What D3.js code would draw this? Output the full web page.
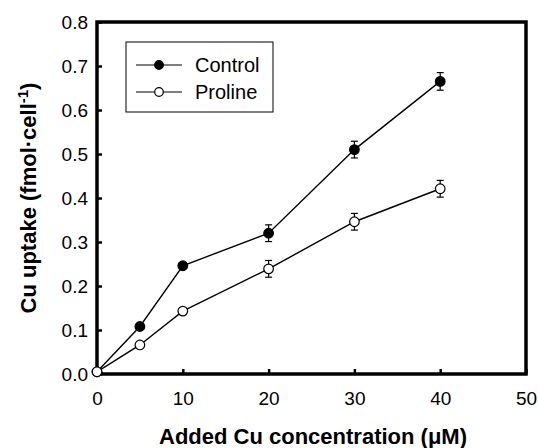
<!DOCTYPE html>
<html>
<head>
<meta charset="utf-8">
<script src="https://cdn.jsdelivr.net/npm/d3@7"></script>
<style>
  body { margin: 0; background: #fff; }
  text { font-family: "Liberation Sans", Arial, sans-serif; fill: #000; }
</style>
</head>
<body>
<div id="chart"></div>
<script>
const concentrations = [0, 5, 10, 20, 30, 40];
const controlValues = [0.005, 0.108, 0.246, 0.32, 0.51, 0.665];
const controlErrors = [0.003, 0.006, 0.006, 0.019, 0.019, 0.02];
const prolineValues = [0.005, 0.066, 0.143, 0.239, 0.346, 0.421];
const prolineErrors = [0.003, 0.005, 0.006, 0.019, 0.019, 0.019];
const xTicks = [0, 10, 20, 30, 40, 50];
const yTicks = [0, 0.1, 0.2, 0.3, 0.4, 0.5, 0.6, 0.7, 0.8];

const w = 539;
const h = 448;
const padL = 97, padR = 526, padT = 22, padB = 374;

const x = d3.scaleLinear().domain([0, 50]).range([padL, padR]);
const y = d3.scaleLinear().domain([0, 0.8]).range([padB, padT]);

const svg = d3.select('#chart')
    .append('svg')
    .attr('width', w)
    .attr('height', h);

// axes, ticks point inward
svg.append('g')
    .attr('transform', `translate(0,${padB})`)
    .call(d3.axisBottom(x).tickValues(xTicks).tickSizeInner(-5).tickSizeOuter(0).tickPadding(18).tickFormat(d3.format('d')))
    .call(g => g.select('.domain').remove())
    .call(g => g.selectAll('line').attr('stroke-width', 2.5))
    .call(g => g.selectAll('text').attr('font-size', 19));

svg.append('g')
    .attr('transform', `translate(${padL},0)`)
    .call(d3.axisLeft(y).tickValues(yTicks).tickSizeInner(-5).tickSizeOuter(0).tickPadding(9).tickFormat(d3.format('.1f')))
    .call(g => g.select('.domain').remove())
    .call(g => g.selectAll('line').attr('stroke-width', 2.5))
    .call(g => g.selectAll('text').attr('font-size', 19));

// frame
svg.append('rect')
    .attr('x', padL).attr('y', padT)
    .attr('width', padR - padL).attr('height', padB - padT)
    .attr('fill', 'none').attr('stroke', '#000').attr('stroke-width', 3.5);

const series = [
  { name: 'Control', values: controlValues, errors: controlErrors, fill: '#000' },
  { name: 'Proline', values: prolineValues, errors: prolineErrors, fill: '#fff' }
];

const line = d3.line().x(d => x(d[0])).y(d => y(d[1]));

series.forEach(s => {
  const pts = concentrations.map((c, i) => [c, s.values[i], s.errors[i]]);
  svg.append('path')
      .datum(pts)
      .attr('d', line)
      .attr('fill', 'none')
      .attr('stroke', '#000')
      .attr('stroke-width', 1.4);

  const eb = svg.append('g');
  pts.forEach(p => {
    const cx = x(p[0]);
    eb.append('line').attr('x1', cx).attr('x2', cx)
      .attr('y1', y(p[1] - p[2])).attr('y2', y(p[1] + p[2]))
      .attr('stroke', '#000').attr('stroke-width', 1.2);
    [p[1] - p[2], p[1] + p[2]].forEach(v => {
      eb.append('line').attr('x1', cx - 3.5).attr('x2', cx + 3.5)
        .attr('y1', y(v)).attr('y2', y(v))
        .attr('stroke', '#000').attr('stroke-width', 1.2);
    });
  });

  svg.append('g').selectAll('circle')
      .data(pts)
      .enter()
      .append('circle')
      .attr('cx', d => x(d[0]))
      .attr('cy', d => y(d[1]))
      .attr('r', 4.8)
      .attr('fill', s.fill)
      .attr('stroke', '#000')
      .attr('stroke-width', 1.2);
});

// legend
const lg = svg.append('g');
lg.append('rect')
    .attr('x', 126).attr('y', 42).attr('width', 147).attr('height', 70)
    .attr('fill', '#fff').attr('stroke', '#000').attr('stroke-width', 1);
series.forEach((s, i) => {
  const ly = 65 + i * 27;
  lg.append('line').attr('x1', 136).attr('x2', 182).attr('y1', ly).attr('y2', ly)
    .attr('stroke', '#000').attr('stroke-width', 1.2);
  lg.append('circle').attr('cx', 159).attr('cy', ly).attr('r', 4.3)
    .attr('fill', s.fill).attr('stroke', '#000').attr('stroke-width', 1.2);
  lg.append('text').attr('x', 195).attr('y', ly + 7).attr('font-size', 20).text(s.name);
});

// axis titles
svg.append('text')
    .attr('x', 313).attr('y', 444)
    .attr('text-anchor', 'middle')
    .attr('font-size', 22).attr('font-weight', 'bold')
    .text('Added Cu concentration (\u03bcM)');

const yt = svg.append('text')
    .attr('transform', 'translate(36,198) rotate(-90)')
    .attr('text-anchor', 'middle')
    .attr('font-size', 22).attr('font-weight', 'bold');
yt.append('tspan').text('Cu uptake (fmol\u00b7cell');
yt.append('tspan').attr('dy', -8).attr('font-size', 15).text('-1');
yt.append('tspan').attr('dy', 8).text(')');
</script>
</body>
</html>
